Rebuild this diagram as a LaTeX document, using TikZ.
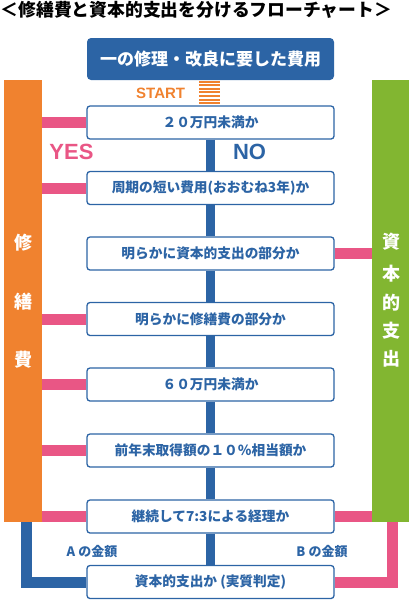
\documentclass[tikz,border=0pt]{standalone}
\usepackage{fontspec}
\setmainfont{Noto Sans CJK JP}
\newfontfamily\latinb{Liberation Sans}
\definecolor{fblue}{HTML}{2C64A5}
\definecolor{forange}{HTML}{F0822F}
\definecolor{fgreen}{HTML}{82B631}
\definecolor{fpink}{HTML}{E95685}
\begin{document}
\begin{tikzpicture}[x=1pt,y=-1pt,
  qbox/.style={draw=fblue, line width=1.3pt, fill=white, rounded corners=3pt,
    minimum width=247pt, minimum height=33pt, inner sep=0pt,
    font=\bfseries\fontsize{13.7}{14}\selectfont, text=fblue},
  topbox/.style={fill=fblue, rounded corners=4pt, minimum width=247pt, minimum height=42pt,
    inner sep=0pt, text=white, font=\bfseries\fontsize{17}{18}\selectfont},
  bar/.style={inner sep=0pt, minimum height=442pt, anchor=north west},
  pinkline/.style={draw=fpink, line width=11pt},
  blueline/.style={draw=fblue, line width=9pt},
  bluebig/.style={draw=fblue, line width=11pt},
  sidetext/.style={text=white, font=\bfseries\fontsize{18}{18}\selectfont, inner sep=0pt},
  yesno/.style={font=\latinb\bfseries\fontsize{22}{22}\selectfont, inner sep=0pt},
  amount/.style={text=fblue, font=\bfseries\fontsize{13}{14}\selectfont, inner sep=0pt},
  stripe/.style={draw=forange, line width=2pt}
]
\useasboundingbox (0,0) rectangle (410,600);

\node[anchor=west, inner sep=0pt, font=\bfseries\fontsize{17.8}{18}\selectfont] (title) at (0.5,10) {＜修繕費と資本的支出を分けるフローチャート＞};

\node[topbox] (top) at (210.5,59) {一の修理・改良に要した費用};

\node[bar, fill=forange, minimum width=38pt] (lbar) at (4,80) {};
\node[bar, fill=fgreen, minimum width=37pt] (rbar) at (372,80) {};

\node[sidetext] (s1) at (23,243) {修};
\node[sidetext] (s2) at (23,302) {繕};
\node[sidetext] (s3) at (23,360) {費};
\node[sidetext] (g1) at (391,242) {資};
\node[sidetext] (g2) at (391,274) {本};
\node[sidetext] (g3) at (391,303) {的};
\node[sidetext] (g4) at (391,331) {支};
\node[sidetext] (g5) at (391,359) {出};

\foreach \k in {0,...,6} \draw[stripe] (199,{81.5+3.6*\k}) -- (220,{81.5+3.6*\k});
\node[anchor=west, inner sep=0pt, text=forange, font=\latinb\bfseries\fontsize{15}{15}\selectfont] (start) at (136,93) {START};

\node[qbox] (q1) at (210.5,122.5) {２０万円未満か};
\node[qbox] (q2) at (210.5,188) {周期の短い費用(おおむね3年)か};
\node[qbox] (q3) at (210.5,253.5) {明らかに資本的支出の部分か};
\node[qbox] (q4) at (210.5,319) {明らかに修繕費の部分か};
\node[qbox] (q5) at (210.5,384.5) {６０万円未満か};
\node[qbox] (q6) at (210.5,450.5) {前年末取得額の１０％相当額か};
\node[qbox] (q7) at (210.5,516.5) {継続して7:3による経理か};
\node[qbox] (q8) at (210.5,582) {資本的支出か (実質判定)};

\foreach \a/\b in {q1/q2,q2/q3,q3/q4,q4/q5,q5/q6,q6/q7,q7/q8}
  \draw[blueline] (\a.south) -- (\b.north);

\foreach \q in {q1,q2,q4,q5,q6,q7}
  \draw[pinkline] (lbar.east |- \q) -- (\q.west);
\foreach \q in {q3,q7}
  \draw[pinkline] (\q.east) -- (rbar.west |- \q);

\draw[bluebig] (lbar.south west) ++(22.5,0) |- (q8.west);
\draw[pinkline] (rbar.south west) ++(20,0) |- (q8.east);

\node[yesno, text=fpink] (yes) at (71.5,152) {YES};
\node[yesno, text=fblue] (no) at (249.5,152) {NO};

\node[amount] (amtA) at (92,552) {A の金額};
\node[amount] (amtB) at (322,552) {B の金額};
\end{tikzpicture}
\end{document}
